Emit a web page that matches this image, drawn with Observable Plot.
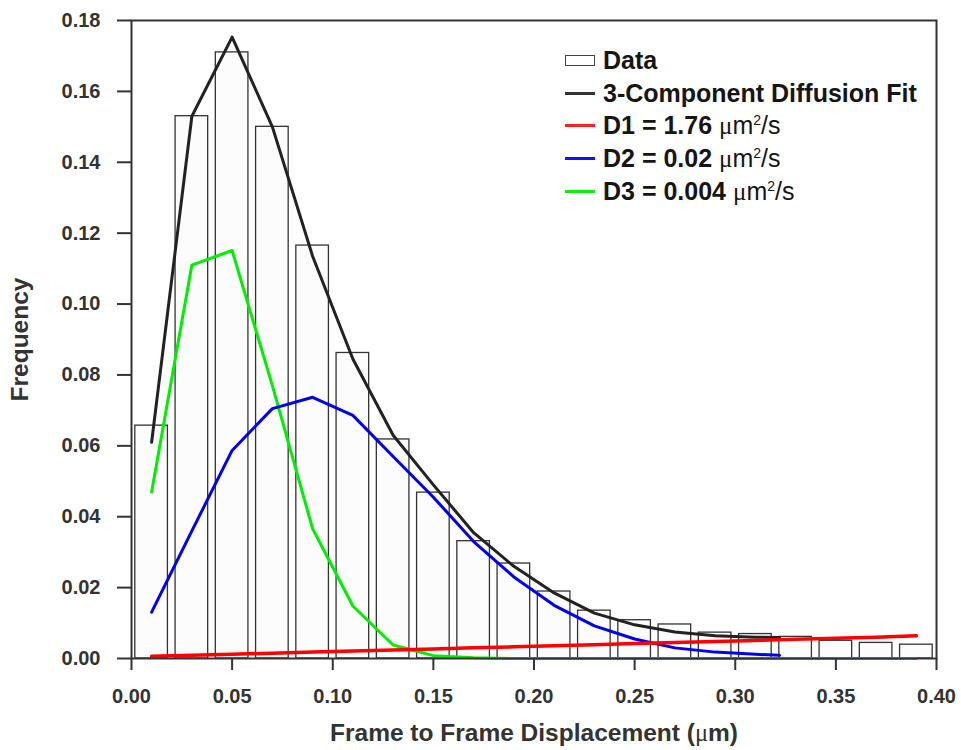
<!DOCTYPE html>
<html>
<head>
<meta charset="utf-8">
<script src="https://cdn.jsdelivr.net/npm/d3@7"></script>
<script src="https://cdn.jsdelivr.net/npm/@observablehq/plot@0.6"></script>
<style>
  html, body { margin: 0; padding: 0; background: white; }
  #wrap { position: relative; width: 961px; height: 750px; }
  #legend { position: absolute; left: 565px; top: 44px; font-family: "Liberation Sans", Arial, sans-serif; font-weight: bold; font-size: 25px; color: #151515; }
  .row { height: 32.75px; display: flex; align-items: center; white-space: nowrap; }
  .sw { width: 30px; margin-right: 8px; flex: none; }
  .mu { font-family: "Liberation Serif", "Times New Roman", serif; font-weight: normal; }
  .unit { font-weight: normal; }
</style>
</head>
<body>
<div id="wrap"><div id="legend"></div></div>
<script>
// Histogram bins (centers) and observed frequencies
const binCenters = [0.01, 0.03, 0.05, 0.07, 0.09, 0.11, 0.13, 0.15, 0.17, 0.19,
                    0.21, 0.23, 0.25, 0.27, 0.29, 0.31, 0.33, 0.35, 0.37, 0.39];
const frequency  = [0.0657, 0.153, 0.171, 0.150, 0.1165, 0.0862, 0.0618, 0.0468, 0.0331, 0.0268,
                    0.0189, 0.0135, 0.0108, 0.0096, 0.0073, 0.0069, 0.0061, 0.0050, 0.0044, 0.0039];

// Fit curves
const fitX   = [0.01, 0.03, 0.05, 0.07, 0.09, 0.11, 0.13, 0.15, 0.17, 0.19,
                0.21, 0.23, 0.25, 0.27, 0.29, 0.31, 0.322];
const fitAll = [0.061, 0.153, 0.1753, 0.150, 0.1135, 0.0845, 0.063, 0.049, 0.0355, 0.026,
                0.0185, 0.0128, 0.0095, 0.0075, 0.0064, 0.0060, 0.0059];
const fitD2  = [0.0131, 0.036, 0.0587, 0.0705, 0.0737, 0.0686, 0.057, 0.0455, 0.033, 0.023,
                0.015, 0.0092, 0.0055, 0.0030, 0.0018, 0.0012, 0.0009];

const compX  = binCenters;
const fitD1  = [0.0006, 0.0009, 0.0012, 0.0015, 0.0018, 0.0021, 0.0024, 0.0027, 0.0030, 0.0033,
                0.0036, 0.0039, 0.0042, 0.0045, 0.0048, 0.0051, 0.0054, 0.0057, 0.0060, 0.0064];
const fitD3  = [0.047, 0.111, 0.1151, 0.077, 0.0366, 0.0148, 0.0038, 0.0008, 0.0002, 0,
                0, 0, 0, 0, 0, 0, 0, 0, 0, 0];

const xTicks = [0, 0.05, 0.10, 0.15, 0.20, 0.25, 0.30, 0.35, 0.40];
const yTicks = [0, 0.02, 0.04, 0.06, 0.08, 0.10, 0.12, 0.14, 0.16, 0.18];

const yLabel = "Frequency";
const xLabel = "Frame to Frame Displacement (\u03bcm)";

const legendItems = [
  {type: "box",  color: "#444",    label: "Data"},
  {type: "line", color: "#333",    label: "3-Component Diffusion Fit"},
  {type: "line", color: "#ff2020", label: "D1 = 1.76 ", unit: true},
  {type: "line", color: "#1010ff", label: "D2 = 0.02 ", unit: true},
  {type: "line", color: "#10ee10", label: "D3 = 0.004 ", unit: true}
];

const halfBar = 0.0081;
const bars = binCenters.map((c, i) => ({c, f: frequency[i]}));
const totalData = fitX.map((x, i) => ({x, y: fitAll[i]}));
const comp2 = fitX.map((x, i) => ({x, y: fitD2[i]}));
const comp1 = compX.map((x, i) => ({x, y: fitD1[i]}));
const comp3 = compX.map((x, i) => ({x, y: fitD3[i]}));

const font = "'Liberation Sans', Arial, sans-serif";
const fmt = d3.format(".2f");

const chart = Plot.plot({
  width: 961,
  height: 750,
  marginLeft: 131,
  marginRight: 25,
  marginTop: 20,
  marginBottom: 92,
  x: {domain: [0, 0.4]},
  y: {domain: [0, 0.18]},
  style: {fontFamily: font, color: "#333", background: "white"},
  marks: [
    Plot.rectY(bars, {x1: d => d.c - halfBar, x2: d => d.c + halfBar, y: "f",
      fill: "#fcfcfc", stroke: "#333", strokeWidth: 1.3}),
    Plot.line(totalData, {x: "x", y: "y", stroke: "#222", strokeWidth: 3}),
    Plot.line(comp3, {x: "x", y: "y", stroke: "#00ee00", strokeWidth: 3}),
    Plot.line(comp2, {x: "x", y: "y", stroke: "#0000f0", strokeWidth: 3}),
    Plot.line(comp1, {x: "x", y: "y", stroke: "#ff0000", strokeWidth: 3.5}),
    Plot.frame({stroke: "#333", strokeWidth: 2}),
    Plot.axisY({ticks: yTicks, tickSize: 14, tickPadding: 17, tickFormat: fmt,
      fontSize: 20, fontWeight: "bold", label: null, strokeWidth: 2, stroke: "#333"}),
    Plot.axisX({ticks: xTicks, tickSize: 12, tickPadding: 18, tickFormat: fmt,
      fontSize: 20, fontWeight: "bold", label: null, strokeWidth: 2, stroke: "#333"}),
    Plot.text([yLabel], {frameAnchor: "left", dx: -111, rotate: -90,
      textAnchor: "middle", lineAnchor: "middle",
      fontSize: 24.5, fontWeight: "bold", fill: "#333"}),
    Plot.text([xLabel], {frameAnchor: "bottom", dy: 75,
      textAnchor: "middle", lineAnchor: "middle", className: "xtitle",
      fontSize: 24.5, fontWeight: "bold", fill: "#333"})
  ]
});

document.getElementById("wrap").insertBefore(chart, document.getElementById("legend"));

// Render the micro sign of the x title in a serif face, as in the original
d3.select(chart).selectAll("text").filter(function() { return this.textContent === xLabel; })
  .each(function() {
    const t = d3.select(this);
    const parts = xLabel.split("\u03bc");
    t.text(null);
    t.append("tspan").text(parts[0]);
    t.append("tspan").attr("font-family", "'Liberation Serif', serif").attr("font-weight", "normal").text("\u03bc");
    t.append("tspan").text(parts[1]);
  });

const legend = d3.select("#legend");
legendItems.forEach(item => {
  const row = legend.append("div").attr("class", "row");
  if (item.type === "box") {
    row.append("div").attr("class", "sw")
      .style("height", "11px").style("border", "1.2px solid " + item.color)
      .style("box-sizing", "border-box").style("background", "#fff");
  } else {
    row.append("div").attr("class", "sw")
      .style("height", "3px").style("background", item.color);
  }
  const t = row.append("div");
  t.append("span").text(item.label);
  if (item.unit) {
    t.append("span").attr("class", "mu").text("\u03bc");
    t.append("span").attr("class", "unit").html("m<sup style='font-size:14px'>2</sup>/s");
  }
});
</script>
</body>
</html>
